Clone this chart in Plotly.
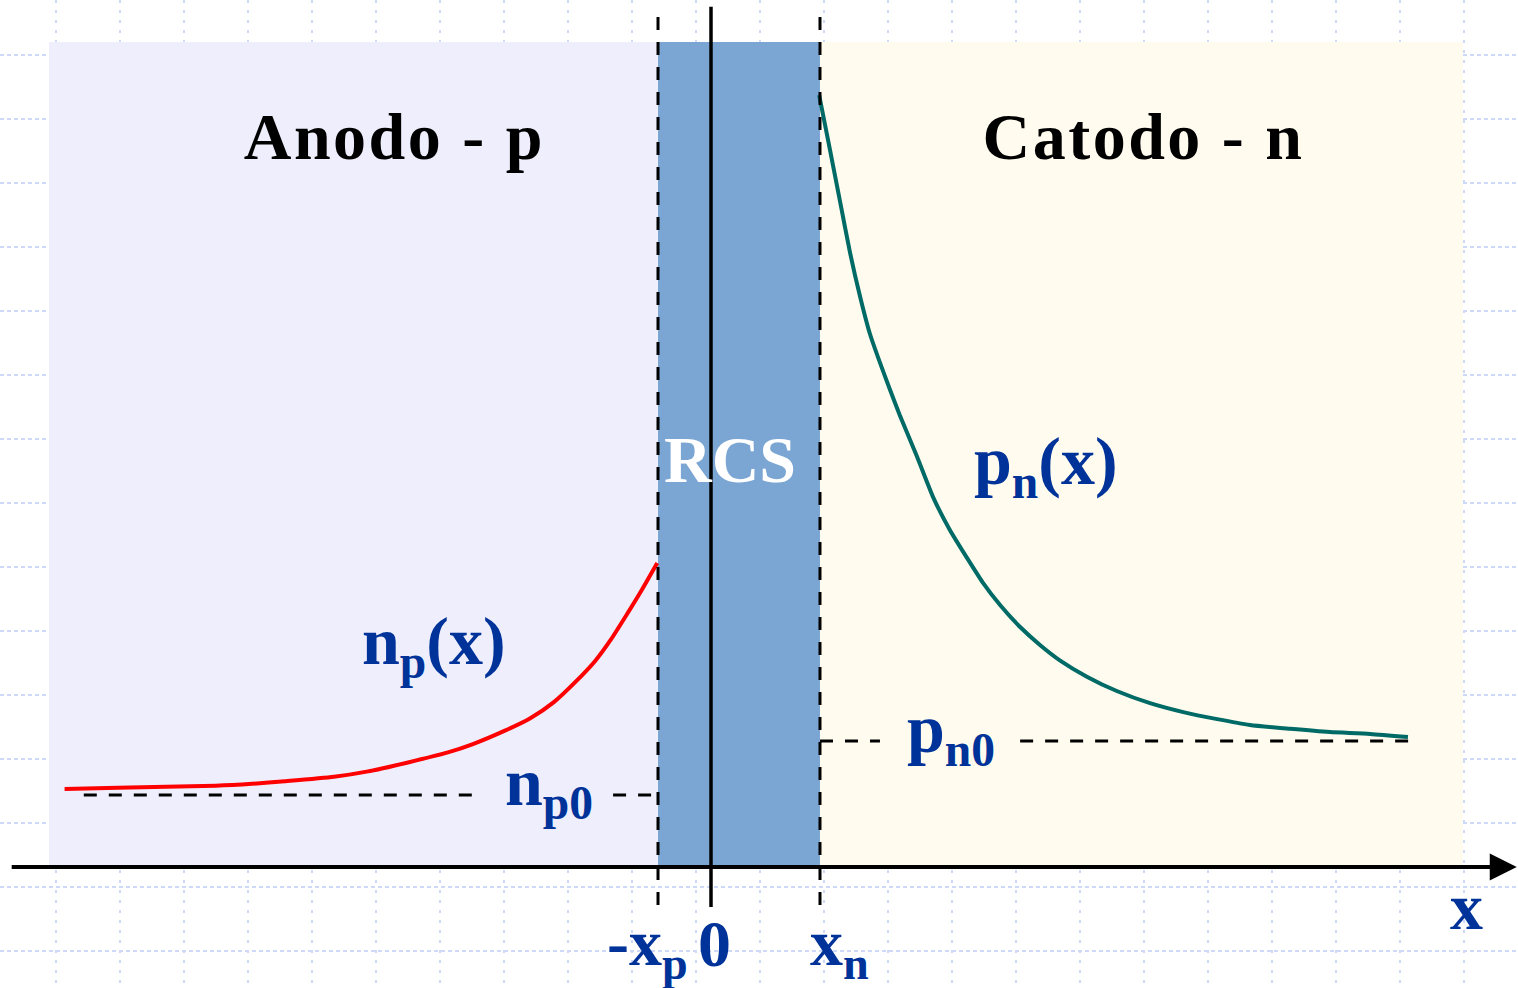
import plotly.graph_objects as go

# ---- data (position x in arbitrary units, concentration in arbitrary units) ----
np_x = [-10.10, -9.27, -7.74, -7.17, -6.66, -5.89, -5.38, -4.75, -4.11, -3.72,
        -3.22, -2.83, -2.45, -2.13, -1.81, -1.56, -1.30, -1.11, -0.84]
np_y = [1.22, 1.24, 1.27, 1.30, 1.34, 1.41, 1.49, 1.63, 1.79, 1.92,
        2.13, 2.32, 2.58, 2.88, 3.22, 3.56, 3.97, 4.28, 4.75]

pn_x = [1.69, 1.86, 2.02, 2.17, 2.33, 2.48, 2.64, 2.80, 2.95, 3.22, 3.47, 3.73,
        4.00, 4.25, 4.52, 4.83, 5.14, 5.45, 5.88, 6.34, 6.86, 7.38, 7.91, 8.42,
        9.05, 9.67, 10.30, 10.89]
pn_y = [12.06, 11.20, 10.38, 9.61, 8.91, 8.34, 7.88, 7.45, 7.06, 6.41, 5.78, 5.27,
        4.83, 4.44, 4.09, 3.75, 3.47, 3.23, 2.97, 2.75, 2.56, 2.42, 2.31, 2.22,
        2.16, 2.11, 2.08, 2.03]

x_p = -0.828          # edge of depletion region on p side
x_n = 1.703           # edge of depletion region on n side
np0 = 1.125           # equilibrium electron concentration (p side)
pn0 = 1.97            # equilibrium hole concentration (n side)

region_x = [-10.344, x_p, x_n, 11.75]
region_top = 12.89
region_colors = ["#eeeefc", "#7ba6d3", "#fffbee"]

np0_segments = [(-9.80, -3.69), (-1.53, x_p)]
pn0_segments = [(x_n, 2.64), (4.83, 10.92)]

XR = [-11.109375, 12.609375]
YR = [-1.890625, 13.546875]

BLUE = "#003399"
FONT = "Liberation Serif"

fig = go.Figure()

# curves
fig.add_trace(go.Scatter(x=np_x, y=np_y, mode="lines",
                         line=dict(color="#ff0000", width=4, shape="spline", smoothing=0.6),
                         hoverinfo="skip", showlegend=False))
fig.add_trace(go.Scatter(x=pn_x, y=pn_y, mode="lines",
                         line=dict(color="#006a66", width=4, shape="spline", smoothing=0.6),
                         hoverinfo="skip", showlegend=False))

shapes = []
for i in range(3):
    shapes.append(dict(type="rect", xref="x", yref="y", layer="between",
                       x0=region_x[i], x1=region_x[i + 1], y0=0.03, y1=region_top,
                       fillcolor=region_colors[i], line=dict(width=0)))
# equilibrium dashed lines
for (a, b) in np0_segments:
    shapes.append(dict(type="line", xref="x", yref="y", layer="above",
                       x0=a, x1=b, y0=np0, y1=np0,
                       line=dict(color="black", width=3, dash="13px,12px")))
for (a, b) in pn0_segments:
    shapes.append(dict(type="line", xref="x", yref="y", layer="above",
                       x0=a, x1=b, y0=pn0, y1=pn0,
                       line=dict(color="black", width=3, dash="13px,12px")))
# depletion region edges
for xv in [x_p, x_n]:
    shapes.append(dict(type="line", xref="x", yref="y", layer="above",
                       x0=xv, x1=xv, y0=-0.594, y1=13.31,
                       line=dict(color="black", width=3, dash="13px,12px")))
# junction line at x = 0
shapes.append(dict(type="line", xref="x", yref="y", layer="above",
                   x0=0, x1=0, y0=-0.625, y1=13.44,
                   line=dict(color="black", width=3.5)))

annotations = []
# x axis arrow
annotations.append(dict(x=12.59, y=0, ax=-10.95, ay=0, xref="x", yref="y",
                        axref="x", ayref="y", text="", showarrow=True,
                        arrowhead=2, arrowsize=1.35, arrowwidth=4,
                        arrowcolor="black", standoff=0))


def label(text, x, y, size=68, color=BLUE, xanchor="left"):
    annotations.append(dict(x=x, y=y, xref="x", yref="y", text=text,
                            showarrow=False, xanchor=xanchor, yanchor="middle",
                            font=dict(family=FONT, size=size, color=color,
                                      weight="bold")))


label("Anodo - p", -4.945, 11.42, size=66, color="black", xanchor="center")
label("Catodo - n", 6.758, 11.42, size=66, color="black", xanchor="center")
label("RCS", 0.297, 6.36, size=66, color="white", xanchor="center")
label("n<sub>p</sub>(x)", -5.484, 3.46)
label("p<sub>n</sub>(x)", 4.078, 6.28)
label("n<sub>p0</sub>", -3.25, 1.26)
label("p<sub>n0</sub>", 3.03, 2.09)
label("-x<sub>p</sub>", -0.328, -1.25, size=66, xanchor="right")
label("0", 0.047, -1.19, size=66, xanchor="center")
label("x<sub>n</sub>", 1.516, -1.25, size=66)
label("x", 11.81, -0.61, size=66, xanchor="center")

grid = dict(showticklabels=False, zeroline=False, showline=False,
            ticks="", gridcolor="#cdd9f6", gridwidth=2, dtick=1)

fig.update_layout(
    width=1518, height=988,
    margin=dict(l=0, r=0, t=0, b=0),
    paper_bgcolor="white", plot_bgcolor="white",
    shapes=shapes, annotations=annotations,
    xaxis=dict(range=XR, tick0=-10.234375, griddash="3px,7px", **grid),
    yaxis=dict(range=YR, tick0=0.6875, griddash="4px,3px", **grid),
)

post = (
    "document.body.style.margin='0';document.body.style.overflow='hidden';"
    "document.querySelectorAll('text.annotation-text').forEach(function(t){"
    "if(/^(Anodo|Catodo)/.test(t.textContent)){t.style.letterSpacing='2.5px';}});"
)
fig.write_html("out.html", config={"displayModeBar": False}, post_script=post)
